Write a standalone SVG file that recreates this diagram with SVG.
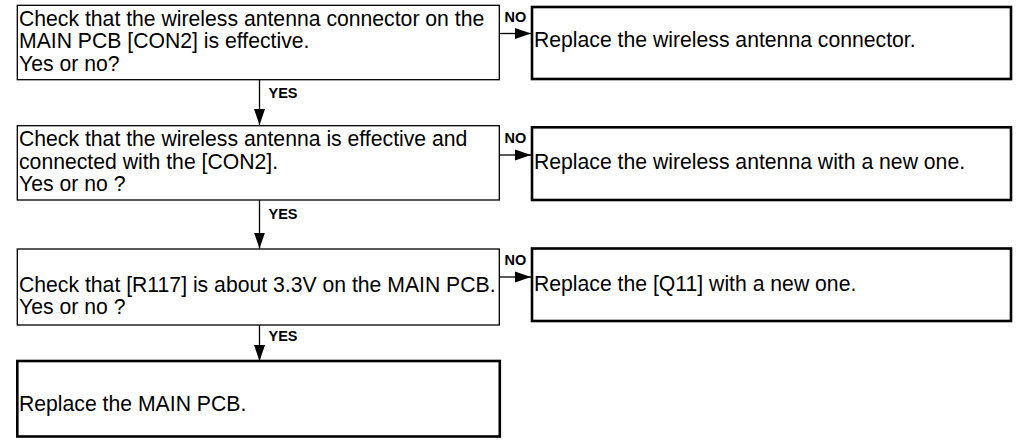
<svg xmlns="http://www.w3.org/2000/svg" width="1017" height="443" viewBox="0 0 1017 443">
<style>
.q{fill:#fff;stroke:#000;stroke-width:1.3}
.a{fill:#fff;stroke:#000;stroke-width:2.6}
.t{font-family:"Liberation Sans",Arial,sans-serif;font-size:21.2px;fill:#000}
.l{font-family:"Liberation Sans",Arial,sans-serif;font-size:14.5px;font-weight:bold;fill:#000}
.c{stroke:#000;stroke-width:1.3;fill:none;marker-end:url(#ah)}
</style>
<defs>
<marker id="ah" markerUnits="userSpaceOnUse" markerWidth="16" markerHeight="12" refX="16" refY="6" orient="auto">
<path d="M0,0.5 L16,6 L0,11.5 z" fill="#000"/>
</marker>
</defs>
<rect width="1017" height="443" fill="#fff"/>
<g id="connectors">
<line class="c" x1="499.5" y1="33.5" x2="531" y2="33.5"/>
<line class="c" x1="499.5" y1="155" x2="531" y2="155"/>
<line class="c" x1="499.5" y1="277" x2="531" y2="277"/>
<line class="c" x1="259.5" y1="80" x2="259.5" y2="125"/>
<line class="c" x1="259.5" y1="200" x2="259.5" y2="248.5"/>
<line class="c" x1="259.5" y1="325" x2="259.5" y2="361"/>
<text class="l" x="504.5" y="22">NO</text>
<text class="l" x="504.5" y="143">NO</text>
<text class="l" x="504.5" y="265">NO</text>
<text class="l" x="268.5" y="97.5">YES</text>
<text class="l" x="268.5" y="218.5">YES</text>
<text class="l" x="268.5" y="341">YES</text>
</g>
<g id="q1">
<rect class="q" x="17.3" y="5.3" width="482" height="74.4"/>
<text class="t" x="19" y="26">Check that the wireless antenna connector on the</text>
<text class="t" x="19" y="48.3">MAIN PCB [CON2] is effective.</text>
<text class="t" x="19" y="71">Yes or no?</text>
</g>
<g id="a1">
<rect class="a" x="532" y="7" width="479" height="72"/>
<text class="t" x="534" y="47">Replace the wireless antenna connector.</text>
</g>
<g id="q2">
<rect class="q" x="17.3" y="125.7" width="482" height="74.3"/>
<text class="t" x="19" y="146.4">Check that the wireless antenna is effective and</text>
<text class="t" x="19" y="168.7">connected with the [CON2].</text>
<text class="t" x="19" y="191.4">Yes or no ?</text>
</g>
<g id="a2">
<rect class="a" x="532" y="127.3" width="479" height="72.7"/>
<text class="t" x="534" y="169">Replace the wireless antenna with a new one.</text>
</g>
<g id="q3">
<rect class="q" x="17.3" y="249" width="482" height="76"/>
<text class="t" x="19" y="292">Check that [R117] is about 3.3V on the MAIN PCB.</text>
<text class="t" x="19" y="314">Yes or no ?</text>
</g>
<g id="a3">
<rect class="a" x="532" y="248.5" width="479" height="72.5"/>
<text class="t" x="534" y="291">Replace the [Q11] with a new one.</text>
</g>
<g id="a4">
<rect class="a" x="17.3" y="361" width="482.5" height="75.5"/>
<text class="t" x="19" y="411">Replace the MAIN PCB.</text>
</g>
</svg>
